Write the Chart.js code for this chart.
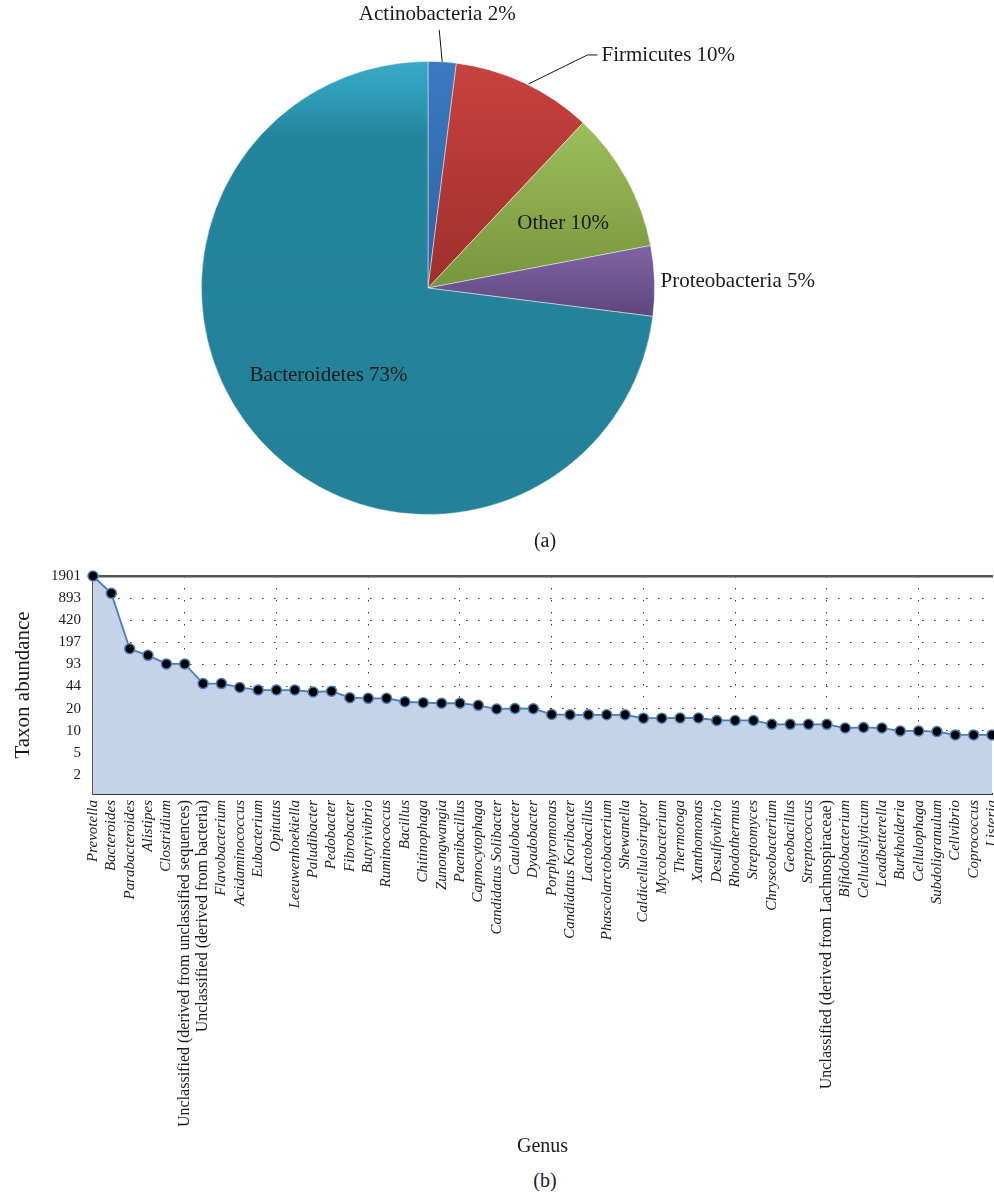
<!DOCTYPE html>
<html>
<head>
<meta charset="utf-8">
<script src="https://cdn.jsdelivr.net/npm/chart.js@4.4.1/dist/chart.umd.min.js"></script>
<style>
    html, body { margin: 0; padding: 0; background: #fff; }
    body { width: 994px; height: 1197px; overflow: hidden; position: relative; font-family: 'Liberation Serif', serif; color: #1a1a1a; }
    #pie-wrap { position: absolute; left: 0; top: 0; width: 994px; height: 530px; }
    #line-wrap { position: absolute; left: 0; top: 566px; width: 1000px; height: 599px; }
    .cap { position: absolute; left: 445px; width: 200px; text-align: center; font-size: 20px; line-height: 23px; }
</style>
</head>
<body>
<div id="pie-wrap"><canvas id="pieChart"></canvas></div>
<div class="cap" style="top:529px">(a)</div>
<div id="line-wrap"><canvas id="abundanceChart"></canvas></div>
<div class="cap" style="top:1169px">(b)</div>

<script>
// --- data: (a) phylum shares ---
const phylumNames = ['Actinobacteria', 'Firmicutes', 'Other', 'Proteobacteria', 'Bacteroidetes'];
const phylumShares = [2, 10, 10, 5, 73];

// --- data: (b) genus abundance ---
const genera = [
    'Prevotella', 'Bacteroides', 'Parabacteroides', 'Alistipes', 'Clostridium',
    'Unclassified (derived from unclassified sequences)', 'Unclassified (derived from bacteria)',
    'Flavobacterium', 'Acidaminococcus', 'Eubacterium', 'Opitutus', 'Leeuwenhoekiella',
    'Paludibacter', 'Pedobacter', 'Fibrobacter', 'Butyrivibrio', 'Ruminococcus', 'Bacillus',
    'Chitinophaga', 'Zunongwangia', 'Paenibacillus', 'Capnocytophaga', 'Candidatus Solibacter',
    'Caulobacter', 'Dyadobacter', 'Porphyromonas', 'Candidatus Koribacter', 'Lactobacillus',
    'Phascolarctobacterium', 'Shewanella', 'Caldicellulosiruptor', 'Mycobacterium', 'Thermotoga',
    'Xanthomonas', 'Desulfovibrio', 'Rhodothermus', 'Streptomyces', 'Chryseobacterium',
    'Geobacillus', 'Streptococcus', 'Unclassified (derived from Lachnospiraceae)',
    'Bifidobacterium', 'Cellulosilyticum', 'Leadbetterella', 'Burkholderia', 'Cellulophaga',
    'Subdoligranulum', 'Cellvibrio', 'Coprococcus', 'Listeria'
];
const abundance = [
    1901, 1050, 158, 126, 94, 94, 48, 48, 42, 38.5,
    38.5, 38.5, 36, 37, 29.6, 29, 29, 25.8, 25, 24.5,
    24.5, 22.8, 20.1, 20.5, 20.3, 16.7, 16.5, 16.5, 16.5, 16.5,
    14.7, 14.7, 14.8, 14.8, 13.6, 13.6, 13.6, 11.9, 11.9, 11.9,
    11.9, 10.5, 10.7, 10.5, 9.5, 9.5, 9.3, 8.3, 8.3, 8.3
];
const yTickLabels = [1901, 893, 420, 197, 93, 44, 20, 10, 5, 2];

const SERIF = "'Liberation Serif', 'DejaVu Serif', serif";
const INK = '#1a1a1a';

// gradient stops per slice (fraction of pie height, colour)
const sliceStops = [
    [[0, '#3b79c1'], [0.5, '#2e63a3']],
    [[0, '#c8423e'], [0.5, '#9e2f2c']],
    [[0.13, '#9dbf5b'], [0.5, '#77953d']],
    [[0.41, '#8063a4'], [0.56, '#5d477e']],
    [[0, '#3aaac7'], [0.06, '#30a0bc'], [0.17, '#24849b'], [1, '#23829a']]
];

function sliceFill(ctx) {
    const area = ctx.chart.chartArea;
    const stops = sliceStops[ctx.dataIndex];
    if (!area) return stops[stops.length - 1][1];
    const g = ctx.chart.ctx.createLinearGradient(0, area.top, 0, area.bottom);
    stops.forEach(([p, c]) => g.addColorStop(p, c));
    return g;
}

// label placement: inside at a radial fraction (with a small turn), or outside offset from the rim point
const labelPlacement = [
    { leader: [[0, 0], [-3, -32]], dx: -5, dy: -47, align: 'center' },
    { leader: [[4, 1], [63, -28], [73, -28]], dx: 77, dy: -27, align: 'left' },
    { inside: 0.66, turn: 0.06 },
    { dx: 6, dy: 1, align: 'left' },
    { inside: 0.585, turn: 0 }
];

const pieLabels = {
    id: 'pieLabels',
    afterDatasetsDraw(chart) {
        const ctx = chart.ctx;
        const arcs = chart.getDatasetMeta(0).data;
        ctx.save();
        ctx.font = `21px ${SERIF}`;
        ctx.fillStyle = INK;
        ctx.strokeStyle = '#111';
        ctx.lineWidth = 1;
        ctx.textBaseline = 'middle';
        arcs.forEach((arc, i) => {
            const p = labelPlacement[i];
            const mid = (arc.startAngle + arc.endAngle) / 2;
            const text = `${phylumNames[i]} ${phylumShares[i]}%`;
            if (p.inside) {
                const a = mid + p.turn;
                ctx.textAlign = 'center';
                ctx.fillText(text, arc.x + Math.cos(a) * arc.outerRadius * p.inside,
                                   arc.y + Math.sin(a) * arc.outerRadius * p.inside);
                return;
            }
            const ex = arc.x + Math.cos(mid) * arc.outerRadius;
            const ey = arc.y + Math.sin(mid) * arc.outerRadius;
            if (p.leader) {
                ctx.beginPath();
                p.leader.forEach(([lx, ly], k) => k ? ctx.lineTo(ex + lx, ey + ly) : ctx.moveTo(ex + lx, ey + ly));
                ctx.stroke();
            }
            ctx.textAlign = p.align;
            ctx.fillText(text, ex + p.dx, ey + p.dy);
        });
        ctx.restore();
    }
};

new Chart(document.getElementById('pieChart'), {
    type: 'pie',
    data: {
        labels: phylumNames,
        datasets: [{
            data: phylumShares,
            backgroundColor: sliceFill,
            borderColor: 'rgba(255,255,255,0.55)',
            borderWidth: 0.8
        }]
    },
    options: {
        responsive: true, maintainAspectRatio: false, animation: false,
        layout: { padding: { left: 201, right: 339, top: 61, bottom: 15 } },
        plugins: { legend: { display: false }, tooltip: { enabled: false } }
    },
    plugins: [pieLabels]
});

// tick positions step down by a constant ratio from the top value
const TICK_RATIO = 2.13;

new Chart(document.getElementById('abundanceChart'), {
    type: 'line',
    data: {
        labels: genera,
        datasets: [{
            data: abundance,
            borderColor: '#4a7ebb',
            borderWidth: 1.8,
            backgroundColor: '#c5d3e9',
            fill: 'start',
            tension: 0,
            pointRadius: 5,
            pointBackgroundColor: '#000',
            pointBorderColor: '#4a7ebb',
            pointBorderWidth: 1.5,
            clip: false
        }]
    },
    options: {
        responsive: true, maintainAspectRatio: false, animation: false,
        layout: { padding: { left: 0, right: 8, top: 0, bottom: 0 } },
        plugins: { legend: { display: false }, tooltip: { enabled: false } },
        scales: {
            x: {
                type: 'category',
                offset: false,
                grid: {
                    drawTicks: false,
                    color: c => (c.index > 0 && c.index % 5 === 0) ? '#3a3a3a' : 'transparent',
                    lineWidth: 1
                },
                border: { display: true, color: '#333', width: 2, dash: [1.5, 10.5] },
                ticks: {
                    autoSkip: false, maxRotation: 90, minRotation: 90, padding: 6, color: INK,
                    font: c => {
                        const plain = c.tick && String(c.tick.label).startsWith('Unclassified');
                        return { family: SERIF, size: plain ? 16 : 15, style: plain ? 'normal' : 'italic' };
                    }
                },
                title: { display: true, text: 'Genus', color: INK, font: { family: SERIF, size: 20 }, padding: { top: 4, bottom: 6 } },
                afterFit: s => { s.height = 371; s.paddingLeft = 0; s.paddingRight = 0; }
            },
            x2: {
                type: 'category',
                position: 'top',
                offset: false,
                grid: { display: false, drawTicks: false },
                border: { display: true, color: '#555', width: 2.5 },
                ticks: { display: false },
                afterFit: s => { s.height = 10; s.paddingLeft = 0; s.paddingRight = 0; }
            },
            y: {
                type: 'logarithmic',
                min: 1.1,
                max: 1901,
                grid: { drawTicks: false, color: '#333', lineWidth: 1 },
                border: { display: true, color: '#555', width: 2, dash: [1.5, 10.5] },
                afterBuildTicks: s => { s.ticks = yTickLabels.map((_, k) => ({ value: 1901 / Math.pow(TICK_RATIO, k) })); },
                ticks: {
                    color: INK, padding: 12, font: { family: SERIF, size: 15 },
                    callback: (v, i) => yTickLabels[i]
                },
                title: { display: true, text: 'Taxon abundance', color: INK, font: { family: SERIF, size: 21 }, padding: { top: 11, bottom: 0 } },
                afterFit: s => { s.width = 93; s.paddingTop = 0; s.paddingBottom = 0; }
            }
        }
    }
});
</script>
</body>
</html>
